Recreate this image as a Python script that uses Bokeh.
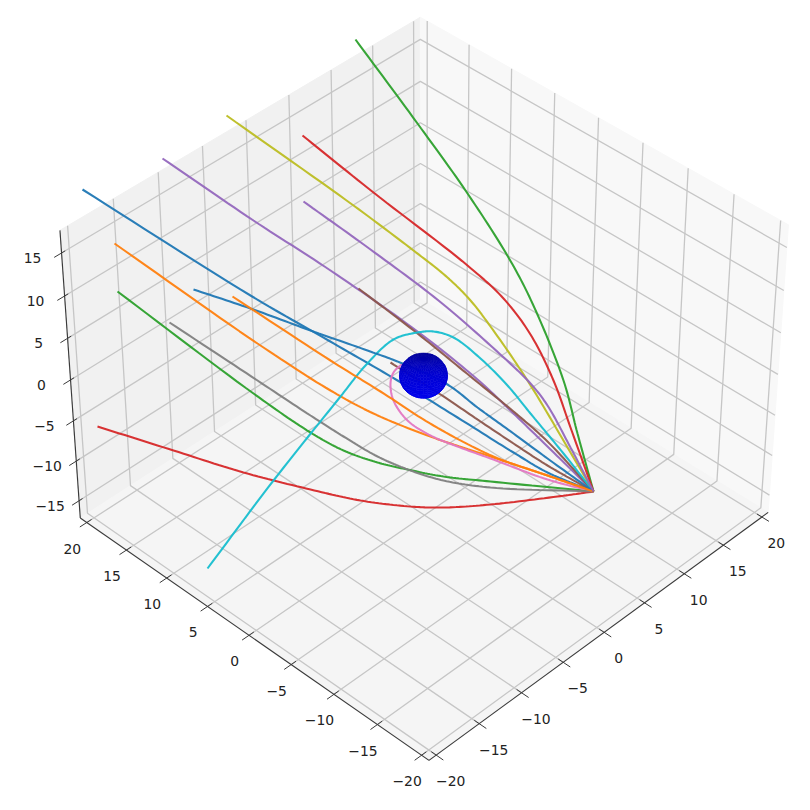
import numpy as np
from bokeh.plotting import figure
from bokeh.embed import file_html
from bokeh.resources import INLINE
from bokeh.core.properties import value

# ---- chart values -------------------------------------------------------
xy_ticks = [-20, -15, -10, -5, 0, 5, 10, 15, 20]
z_ticks = [-15, -10, -5, 0, 5, 10, 15]
x_lim = (-20.83, 20.83)
y_lim = (-20.83, 20.83)
z_lim = (-17.2, 17.6)
sphere_radius = 2.0
sphere_center = (-0.06, 0.06, 0.2)

# curves as (horizontal, vertical) projected positions
blue_long_u = [82,250,328,397,457,513,547,593]
blue_long_v = [189,295,340,380,417,452,472,491]
orange_long_u = [114,257,330,373,427,490,547,593]
orange_long_v = [243,343,390,413,435,456,475,491]
green_low_u = [117,253,310,343,377,407,443,490,593]
green_low_v = [291,393,432,450,462,469,476,481,491]
red_low_u = [97,173,243,310,360,410,443,490,557,593]
red_low_v = [426,450,472,489,500,506,507,504,496,491]
purple_long_u = [162,253,330,417,477,513,547,593]
purple_long_v = [158,220,270,331,379,413,446,491]
brown_upper_u = [358,417,470,513,547,593]
brown_upper_v = [288,333,376,411,441,491]
brown_lower_u = [593,547,513,480,440,390]
brown_lower_v = [491,465,443,421,394,362]
pink_u = [593,547,490,457,430,407,393,390,393,402]
pink_v = [491,479,458,446,435,420,400,383,372,363]
gray_u = [169,257,310,343,377,410,443,490,593]
gray_v = [322,380,415,436,456,470,480,487,491]
olive_u = [226,353,413,447,470,490,527,570,593]
olive_v = [115,205,250,277,300,326,380,452,491]
cyan_u = [207,273,340,365,393,417,433,453,480,507,530,563,593]
cyan_v = [568,480,396,365,339,332,331,337,358,385,413,453,491]
blue_short_u = [193,250,310,367,402,447,477,513,547,593]
blue_short_v = [289,308,330,350,363,384,407,433,458,491]
orange_short_u = [232,330,380,433,493,547,593]
orange_short_v = [296,360,391,425,456,475,491]
green_tall_u = [355,417,465,508,532,563,577,593]
green_tall_v = [39,123,190,257,303,380,433,491]
red_tall_u = [302,373,467,503,530,553,570,593]
red_tall_v = [135,192,265,298,334,380,427,491]
purple_short_u = [303,370,438,490,530,547,570,593]
purple_short_v = [201,249,300,345,383,405,447,491]

# ---- matplotlib style camera --------------------------------------------
elev, azim = np.radians(40.0), np.radians(224.3)
half = np.array([0.595, 0.595, 0.446])
dist, scale, cx, cy = 10.0, 4205.0, 424.0, 375.0
right = np.array([-np.sin(azim), np.cos(azim), 0.0])
normal = np.array([np.cos(elev)*np.cos(azim), np.cos(elev)*np.sin(azim), np.sin(elev)])
upv = np.cross(normal, right)


def world(x, y, z):
    return np.array([
        (x - sum(x_lim)/2) / (x_lim[1]-x_lim[0]) * 2 * half[0],
        (y - sum(y_lim)/2) / (y_lim[1]-y_lim[0]) * 2 * half[1],
        (z - sum(z_lim)/2) / (z_lim[1]-z_lim[0]) * 2 * half[2]])


def proj(x, y, z):
    w = world(x, y, z)
    d = dist - w @ normal
    return cx + scale * (w @ right) / d, cy - scale * (w @ upv) / d


def segs(points):
    pts = [proj(*q) for q in points]
    return [q[0] for q in pts], [q[1] for q in pts]


def smooth(u, v, n=14):
    """Draw a round stroke through the read positions (centripetal Catmull-Rom)."""
    P = np.column_stack([u, v]).astype(float)
    P = np.vstack([2*P[0]-P[1], P, 2*P[-1]-P[-2]])
    out = []
    for i in range(1, len(P)-2):
        p0, p1, p2, p3 = P[i-1], P[i], P[i+1], P[i+2]
        t0 = 0.0
        t1 = t0 + np.linalg.norm(p1-p0)**0.5
        t2 = t1 + np.linalg.norm(p2-p1)**0.5
        t3 = t2 + np.linalg.norm(p3-p2)**0.5
        for t in np.linspace(t1, t2, n, endpoint=False):
            a1 = (t1-t)/(t1-t0)*p0 + (t-t0)/(t1-t0)*p1
            a2 = (t2-t)/(t2-t1)*p1 + (t-t1)/(t2-t1)*p2
            a3 = (t3-t)/(t3-t2)*p2 + (t-t2)/(t3-t2)*p3
            b1 = (t2-t)/(t2-t0)*a1 + (t-t0)/(t2-t0)*a2
            b2 = (t3-t)/(t3-t1)*a2 + (t-t1)/(t3-t1)*a3
            out.append((t2-t)/(t2-t1)*b1 + (t-t1)/(t2-t1)*b2)
    out.append(P[-2])
    out = np.array(out)
    return out[:, 0], out[:, 1]


p = figure(width=794, height=794, x_range=(0, 794), y_range=(794, 0),
           output_backend="svg", toolbar_location=None, min_border=0,
           x_axis_type=None, y_axis_type=None, outline_line_color=None)
p.grid.visible = False
p.background_fill_color = "white"

x0, x1 = x_lim
y0, y1 = y_lim
z0, z1 = z_lim

# panes
u, v = segs([(x0, y1, z0), (x1, y1, z0), (x1, y1, z1), (x0, y1, z1)])
p.patch(u, v, fill_color="#f1f1f1", line_color="#f1f1f1", line_width=1)
u, v = segs([(x1, y0, z0), (x1, y1, z0), (x1, y1, z1), (x1, y0, z1)])
p.patch(u, v, fill_color="#f8f8f8", line_color="#f8f8f8", line_width=1)
u, v = segs([(x0, y0, z0), (x1, y0, z0), (x1, y1, z0), (x0, y1, z0)])
p.patch(u, v, fill_color="#f5f5f5", line_color="#f5f5f5", line_width=1)

# grid
GRID = "#c6c6c6"
GW = 1.3
for t in xy_ticks:
    u, v = segs([(t, y0, z0), (t, y1, z0), (t, y1, z1)])
    p.line(u, v, line_color=GRID, line_width=GW)
    u, v = segs([(x0, t, z0), (x1, t, z0), (x1, t, z1)])
    p.line(u, v, line_color=GRID, line_width=GW)
for t in z_ticks:
    u, v = segs([(x0, y1, t), (x1, y1, t), (x1, y0, t)])
    p.line(u, v, line_color=GRID, line_width=GW)

# axis lines
AX = "#3a3a3a"
u, v = segs([(x0, y0, z0), (x1, y0, z0)])
p.line(u, v, line_color=AX, line_width=1.15)
u, v = segs([(x0, y0, z0), (x0, y1, z0)])
p.line(u, v, line_color=AX, line_width=1.15)
u, v = segs([(x0, y1, z0), (x0, y1, z1)])
p.line(u, v, line_color=AX, line_width=1.15)

# ticks and labels
label_u, label_v, label_t = [], [], []
for t in xy_ticks:
    u, v = segs([(t, y0 + 0.55, z0), (t, y0 - 0.8, z0)])
    p.line(u, v, line_color=AX, line_width=1.0)
    a, b = proj(t, y0, z0)
    label_u.append(a + 14.5); label_v.append(b + 26)
    label_t.append(str(t).replace("-", "\u2212"))
    u, v = segs([(x0 + 0.55, t, z0), (x0 - 0.8, t, z0)])
    p.line(u, v, line_color=AX, line_width=1.0)
    a, b = proj(x0, t, z0)
    label_u.append(a - 14.5); label_v.append(b + 26)
    label_t.append(str(t).replace("-", "\u2212"))
for t in z_ticks:
    u, v = segs([(x0 + 0.4, y1, t), (x0 - 0.8, y1, t)])
    p.line(u, v, line_color=AX, line_width=1.0)
    a, b = proj(x0, y1, t)
    label_u.append(a - 29); label_v.append(b + 5)
    label_t.append(str(t).replace("-", "\u2212"))
p.text(label_u, label_v, text=label_t, text_font=value("DejaVu Sans"),
       text_font_size="13.9px", text_color="#222222",
       text_align="center", text_baseline="middle")

# curves in colour-cycle order
curves = [
    (blue_long_u, blue_long_v, "#1f77b4"),
    (orange_long_u, orange_long_v, "#ff7f0e"),
    (green_low_u, green_low_v, "#2ca02c"),
    (red_low_u, red_low_v, "#d62728"),
    (purple_long_u, purple_long_v, "#9467bd"),
    (brown_upper_u, brown_upper_v, "#8c564b"),
    (brown_lower_u, brown_lower_v, "#8c564b"),
    (pink_u, pink_v, "#e377c2"),
    (gray_u, gray_v, "#7f7f7f"),
    (olive_u, olive_v, "#bcbd22"),
    (cyan_u, cyan_v, "#17becf"),
    (blue_short_u, blue_short_v, "#1f77b4"),
    (orange_short_u, orange_short_v, "#ff7f0e"),
    (green_tall_u, green_tall_v, "#2ca02c"),
    (red_tall_u, red_tall_v, "#d62728"),
    (purple_short_u, purple_short_v, "#9467bd"),
]
for cu, cv, col in curves:
    su, sv = smooth(cu, cv)
    p.line(su, sv, line_color=col, line_width=2.08, line_alpha=0.95)

# sphere, shaded mesh
th = np.linspace(0, 2*np.pi, 41)
ph = np.linspace(0, np.pi, 25)
xs, ys, fills = [], [], []
sc = np.array(sphere_center)
for i in range(len(th)-1):
    for j in range(len(ph)-1):
        corners = [(th[i], ph[j]), (th[i+1], ph[j]), (th[i+1], ph[j+1]), (th[i], ph[j+1])]
        pts = [tuple(sc + sphere_radius*np.array([np.cos(a)*np.sin(b), np.sin(a)*np.sin(b),
                np.cos(b)])) for a, b in corners]
        c = np.mean([world(*q) for q in pts], axis=0) - world(*sc)
        n = c / np.linalg.norm(c)
        if n @ normal <= 0:
            continue
        h = n @ upv
        level = 212 - 45*h - 15*h*h if h > 0 else 212 - 25*h
        fills.append("#0000%02x" % int(np.clip(level, 0, 255)))
        a, b = segs(pts)
        xs.append(a); ys.append(b)
p.patches(xs, ys, fill_color=fills, line_color=fills, line_width=0.5)

open("out.html", "w").write(file_html(p, INLINE))
